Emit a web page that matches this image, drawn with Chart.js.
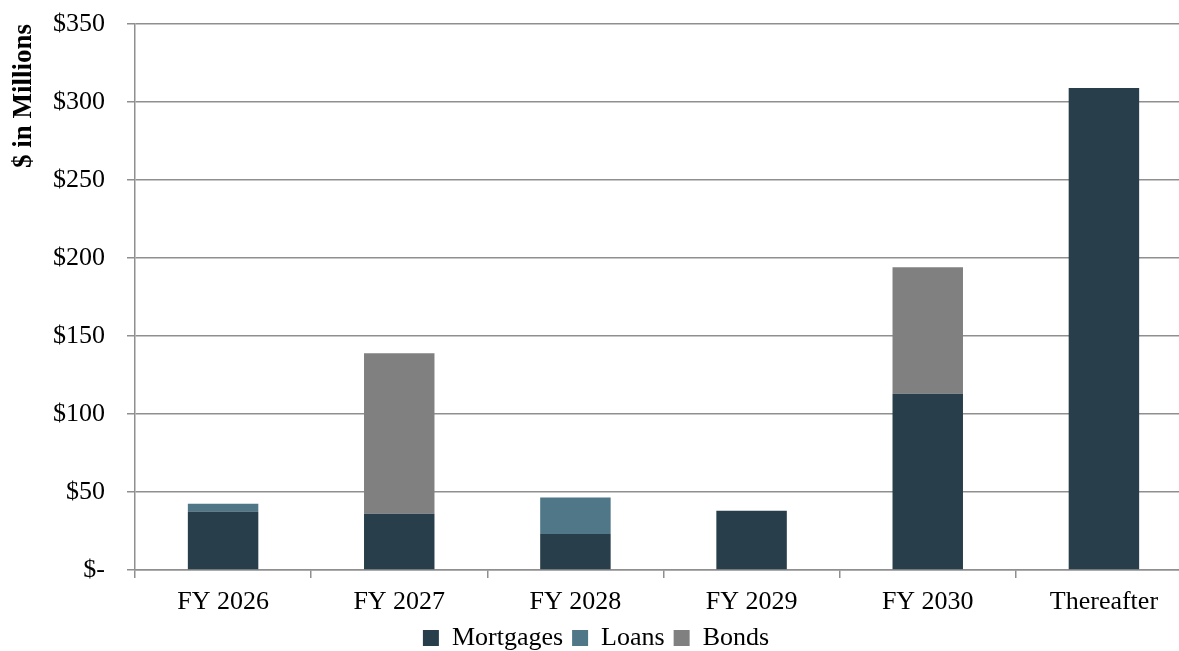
<!DOCTYPE html>
<html lang="en">
<head>
    <meta charset="UTF-8" />
    <script src="https://cdn.jsdelivr.net/npm/chart.js"></script>
    <title>Debt maturities</title>
    <style>
        body {
            margin: 0;
            overflow: hidden;
            background: #fff;
        }
        #wrap {
            width: 1192px;
            height: 651px;
        }
    </style>
</head>
<body>
<div id="wrap"><canvas id="myChart"></canvas></div>

<script>
    // values in $ millions
    const categories = ['FY 2026', 'FY 2027', 'FY 2028', 'FY 2029', 'FY 2030', 'Thereafter'];
    const mortgages = [37.5, 36, 23, 38, 113, 309];
    const loans = [5, 0, 23.5, 0, 0, 0];
    const bonds = [0, 103, 0, 0, 81, 0];

    const gridColor = '#8f8f8f';
    const serif = "'Liberation Serif', 'Times New Roman', serif";

    const ctx = document.getElementById('myChart').getContext('2d');

    const myChart = new Chart(ctx, {
        type: 'bar',
        data: {
            labels: categories,
            datasets: [
                { label: 'Mortgages', data: mortgages, backgroundColor: '#283f4b' },
                { label: 'Loans', data: loans, backgroundColor: '#4f7787' },
                { label: 'Bonds', data: bonds, backgroundColor: '#808080' }
            ]
        },
        options: {
            responsive: true,
            maintainAspectRatio: false,
            animation: false,
            // legend.fit adds 10px below the row, pull it back
            layout: { padding: { top: 0, bottom: -10 } },
            datasets: {
                bar: {
                    categoryPercentage: 1,
                    barPercentage: 0.4,
                    borderWidth: 0
                }
            },
            scales: {
                x: {
                    stacked: true,
                    afterFit: (scale) => { scale.height = 46; },
                    grid: {
                        drawOnChartArea: false,
                        drawTicks: true,
                        tickLength: 8,
                        color: gridColor,
                        lineWidth: 1.5
                    },
                    border: { color: gridColor, width: 1.5 },
                    ticks: {
                        color: '#000',
                        padding: 11,
                        font: { family: serif, size: 26, lineHeight: 1 }
                    }
                },
                y: {
                    stacked: true,
                    min: 0,
                    max: 350,
                    afterFit: (scale) => {
                        scale.width = 135;
                        scale.paddingTop = 24;
                        scale.paddingBottom = 0;
                    },
                    grid: {
                        color: gridColor,
                        lineWidth: 1.5,
                        tickLength: 8
                    },
                    border: { color: gridColor, width: 1.5 },
                    ticks: {
                        stepSize: 50,
                        color: '#000',
                        padding: 22,
                        font: { family: serif, size: 26, lineHeight: 1 },
                        callback: (v) => v === 0 ? '$-' : '$' + v
                    },
                    title: {
                        display: true,
                        text: '$ in Millions',
                        align: 'end',
                        color: '#000',
                        padding: { top: 11, bottom: 0 },
                        font: { family: serif, size: 27, weight: 'bold', lineHeight: 1 }
                    }
                }
            },
            plugins: {
                legend: {
                    position: 'bottom',
                    labels: {
                        color: '#000',
                        boxWidth: 16,
                        boxHeight: 16,
                        padding: 9,
                        font: { family: serif, size: 26, lineHeight: 1 }
                    }
                },
                tooltip: { enabled: false }
            }
        }
    });
</script>
</body>
</html>
